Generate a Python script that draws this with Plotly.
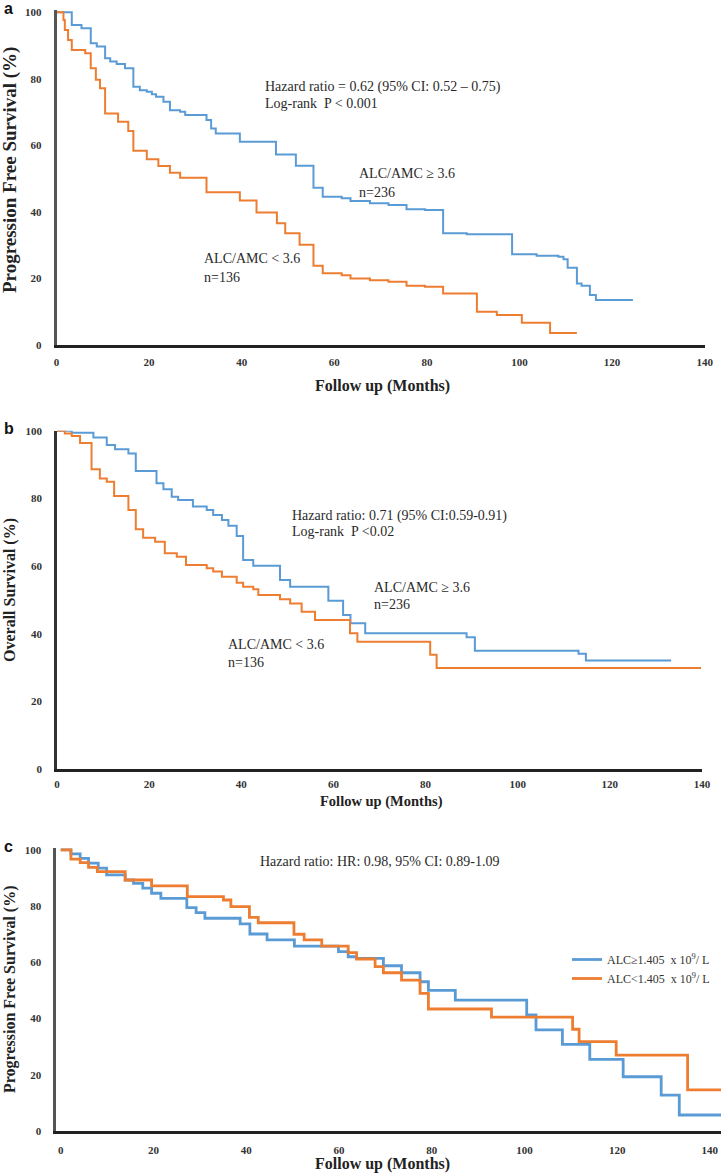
import plotly.graph_objects as go

# ---------------- DATA ----------------
# Panel a: Progression free survival by ALC/AMC
a_high_t = [0, 3.3, 5.4, 7.4, 8.7, 10.5, 11.6, 13.0, 14.8, 16.6, 18.0, 19.5, 20.6, 21.5, 23.1,
            24.5, 26.7, 27.8, 32.4, 33.4, 34.4, 39.6, 47.4, 51.7, 55.5, 57.5, 61.6, 63.5, 67.7,
            71.7, 75.6, 79.6, 83.5, 88.6, 98.4, 103.7, 108.4, 109.5, 110.4, 112.4, 113.4, 115.2, 116.5]
a_high_s = [100, 96.2, 95.2, 90.7, 89.7, 86.2, 85.2, 84.5, 83.2, 77.6, 76.6, 76.1, 75.4, 74.6, 73.1,
            70.6, 70.1, 69.1, 67.6, 65.1, 63.6, 61.1, 57.3, 53.9, 47.3, 44.6, 44.1, 43.3, 42.6,
            42.1, 40.8, 40.6, 33.6, 33.3, 27.3, 26.8, 26.5, 25.8, 23.2, 18.5, 17.8, 15.0, 13.5]
a_high_end = 124.5
a_low_t = [0, 1.5, 1.8, 2.5, 3.3, 6.2, 7.4, 8.5, 9.4, 10.5, 13.3, 15.5, 16.6, 19.5, 22.0, 24.5,
           26.7, 32.4, 39.6, 43.2, 47.6, 49.4, 52.5, 55.5, 57.5, 61.6, 63.5, 67.7, 71.7, 75.6,
           79.6, 83.5, 90.8, 95.1, 100.5, 106.6]
a_low_s = [100, 97.7, 94.7, 91.7, 88.7, 87.7, 83.2, 79.7, 77.2, 69.6, 67.1, 64.3, 58.4, 55.8, 53.8, 51.8,
           50.3, 45.9, 43.4, 39.8, 36.6, 33.6, 30.1, 23.8, 21.6, 21.0, 20.0, 19.5, 19.0, 17.8,
           17.5, 15.5, 10.0, 9.0, 6.7, 3.6]
a_low_end = 112.4

# Panel b: Overall survival by ALC/AMC
b_high_t = [0, 3.2, 7.9, 10.8, 12.6, 15.5, 17.1, 21.6, 23.1, 24.9, 26.3, 29.5, 32.5, 33.9, 35.8,
            37.2, 39.0, 40.4, 42.6, 48.4, 50.6, 58.9, 62.1, 63.7, 66.9, 88.9, 90.7, 113.2, 114.8]
b_high_s = [100, 99.4, 98.0, 95.8, 94.5, 93.3, 88.1, 84.5, 82.7, 80.5, 79.5, 77.6, 76.6, 75.1, 73.6,
            71.9, 68.9, 61.8, 60.1, 55.9, 53.9, 49.8, 45.6, 43.1, 40.2, 39.0, 35.0, 34.1, 32.1]
b_high_end = 133.3
b_low_t = [0, 1.7, 3.2, 5.0, 7.5, 9.3, 10.8, 12.4, 15.5, 17.1, 18.7, 21.3, 23.4, 26.0, 28.0,
           32.5, 33.9, 35.8, 39.0, 40.4, 42.6, 43.7, 48.4, 50.6, 53.1, 56.0, 63.6, 65.2, 81.0, 82.4]
b_low_s = [100, 99.2, 98.4, 96.4, 88.6, 85.9, 84.9, 80.7, 76.6, 70.9, 68.4, 67.2, 63.8, 62.8, 60.3,
           59.4, 58.4, 56.9, 55.1, 53.9, 53.2, 51.5, 50.2, 49.0, 46.5, 44.1, 40.2, 37.7, 33.8, 29.9]
b_low_end = 139.8

# Panel c: Progression free survival by ALC
c_high_t = [0, 2.2, 4.2, 6.0, 8.1, 9.9, 13.9, 15.7, 17.7, 19.6, 21.6, 27.2, 29.2, 31.1, 38.7, 40.8,
            44.5, 50.4, 59.9, 62.0, 63.8, 69.6, 73.5, 77.5, 79.3, 85.1, 100.5, 102.5, 108.2, 114.1,
            121.3, 129.5, 133.4]
c_high_s = [100, 98.6, 97.0, 95.3, 93.5, 91.1, 89.3, 88.1, 86.4, 84.6, 82.8, 79.5, 77.7, 75.7, 73.7, 70.1,
            68.0, 65.8, 63.8, 62.0, 61.4, 58.8, 56.3, 53.1, 50.0, 46.6, 41.3, 36.0, 30.8, 25.5,
            19.3, 12.8, 5.7]
c_high_end = 142.4
c_low_t = [0, 2.2, 4.2, 6.0, 7.9, 13.9, 19.6, 27.3, 35.1, 36.7, 40.7, 42.6, 50.3, 52.5, 56.3, 62.0,
           63.8, 67.8, 69.6, 73.5, 77.5, 79.3, 92.9, 110.4, 111.8, 119.8, 135.2]
c_low_s = [100, 96.7, 95.5, 93.8, 92.3, 89.3, 87.2, 83.4, 82.2, 79.8, 76.0, 74.1, 70.0, 68.0, 65.8, 63.5,
           61.2, 58.5, 56.3, 53.7, 49.0, 43.4, 40.5, 36.2, 31.8, 27.0, 14.6]
c_low_end = 142.4

x_ticks = [0, 20, 40, 60, 80, 100, 120, 140]
y_ticks = [0, 20, 40, 60, 80, 100]

c_legend_high = "ALC≥1.405  x 10<sup>9</sup>/ L"
c_legend_low = "ALC&lt;1.405  x 10<sup>9</sup>/ L"

# ---------------- STYLE ----------------
W, H = 724, 1175
BLUE = "#5B9BD5"
ORANGE = "#ED7D31"
SERIF = "Liberation Serif"


def px(X):
    return X / W


def py(Y):
    return 1 - Y / H


def km(t, s, end):
    return list(t) + [end], list(s) + [s[-1]]


fig = go.Figure()
series = [
    (a_high_t, a_high_s, a_high_end, BLUE, "x", "y", 2.0, "a high", False),
    (a_low_t, a_low_s, a_low_end, ORANGE, "x", "y", 2.0, "a low", False),
    (b_high_t, b_high_s, b_high_end, BLUE, "x2", "y2", 2.0, "b high", False),
    (b_low_t, b_low_s, b_low_end, ORANGE, "x2", "y2", 2.0, "b low", False),
    (c_high_t, c_high_s, c_high_end, BLUE, "x3", "y3", 2.8, c_legend_high, True),
    (c_low_t, c_low_s, c_low_end, ORANGE, "x3", "y3", 2.8, c_legend_low, True),
]
for t, s, end, col, xa, ya, lw, name, show in series:
    xs, ys = km(t, s, end)
    fig.add_trace(go.Scatter(x=xs, y=ys, mode="lines", xaxis=xa, yaxis=ya, name=name,
                             showlegend=show, hoverinfo="skip", cliponaxis=False,
                             line=dict(color=col, width=lw, shape="hv")))

tickfont = dict(family=SERIF, size=11, color="#333", weight="bold")


def xaxis(dom, rng, anchor, standoff):
    return dict(domain=dom, range=rng, anchor=anchor, tickvals=x_ticks, showgrid=False,
                zeroline=False, showline=True, linewidth=2.5, linecolor="#222", ticks="",
                tickfont=tickfont, ticklabelstandoff=standoff, fixedrange=True, automargin=False)


def yaxis(dom, rng, anchor, lc):
    return dict(domain=dom, range=rng, anchor=anchor, tickvals=y_ticks, showgrid=False,
                zeroline=False, showline=True, linewidth=2.5, linecolor=lc, ticks="",
                tickfont=tickfont, ticklabelstandoff=10, fixedrange=True, automargin=False)


fig.update_layout(
    width=W, height=H, margin=dict(l=0, r=0, t=0, b=0, autoexpand=False),
    paper_bgcolor="white", plot_bgcolor="white",
    xaxis=xaxis([px(56.5), px(704.7)], [0, 140], "y", 5),
    yaxis=yaxis([py(345), py(10)], [0, 100.7], "x", "#555"),
    xaxis2=xaxis([px(57), px(702)], [0, 140], "y2", 3),
    yaxis2=yaxis([py(769.3), py(430.7)], [0, 100], "x2", "#333"),
    xaxis3=xaxis([px(56.3), px(721)], [-0.95, 142.4], "y3", 7),
    yaxis3=yaxis([py(1131), py(847.7)], [0, 100.8], "x3", "#555"),
    legend=dict(x=px(567), y=py(945), xanchor="left", yanchor="top", bgcolor="rgba(0,0,0,0)",
                font=dict(family=SERIF, size=12, color="#333"), tracegroupgap=0),
)

ann = []


def note(text, X, Y, size=14, bold=False, family=SERIF, xanchor="left", angle=0, color="#2a2a2a"):
    ann.append(dict(text=text, x=px(X), y=py(Y), xref="paper", yref="paper", showarrow=False,
                    xanchor=xanchor, yanchor="middle", textangle=angle,
                    font=dict(family=family, size=size, color=color,
                              weight="bold" if bold else "normal")))


# panel letters
note("a", 2, 8, size=16, bold=True, family="Liberation Sans", color="#111")
note("b", 2, 428, size=16, bold=True, family="Liberation Sans", color="#111")
note("c", 2, 846, size=16, bold=True, family="Liberation Sans", color="#111")

# axis titles
note("Progression Free Survival (%)", 10, 170, size=19, bold=True, xanchor="center", angle=-90, color="#222")
note("Follow up (Months)", 382, 386, size=16, bold=True, xanchor="center", color="#222")
note("Overall Survival (%)", 10, 590, size=16, bold=True, xanchor="center", angle=-90, color="#222")
note("Follow up (Months)", 381, 801, size=14.5, bold=True, xanchor="center", color="#222")
note("Progression Free Survival (%)", 10, 989, size=16, bold=True, xanchor="center", angle=-90, color="#222")
note("Follow up (Months)", 382, 1164, size=16, bold=True, xanchor="center", color="#222")

# panel a texts
note("Hazard ratio = 0.62 (95% CI: 0.52 – 0.75)", 263, 87)
note("Log-rank\u00a0\u00a0P &lt; 0.001", 263, 104)
note("ALC/AMC ≥ 3.6", 357, 173)
note("n=236", 357, 192)
note("ALC/AMC &lt; 3.6", 202, 258)
note("n=136", 202, 277)

# panel b texts
note("Hazard ratio: 0.71 (95% CI:0.59-0.91)", 290, 515.5)
note("Log-rank\u00a0\u00a0P &lt;0.02", 290, 531.5)
note("ALC/AMC ≥ 3.6", 372, 587)
note("n=236", 372, 604)
note("ALC/AMC &lt; 3.6", 226, 644)
note("n=136", 226, 662)

# panel c text
note("Hazard ratio: HR: 0.98, 95% CI: 0.89-1.09", 258, 861)

fig.update_layout(annotations=ann)
fig.write_html(
    "out.html",
    config={"displayModeBar": False},
    post_script="document.documentElement.style.margin='0';document.body.style.margin='0';"
                "document.body.style.overflow='hidden';",
)
